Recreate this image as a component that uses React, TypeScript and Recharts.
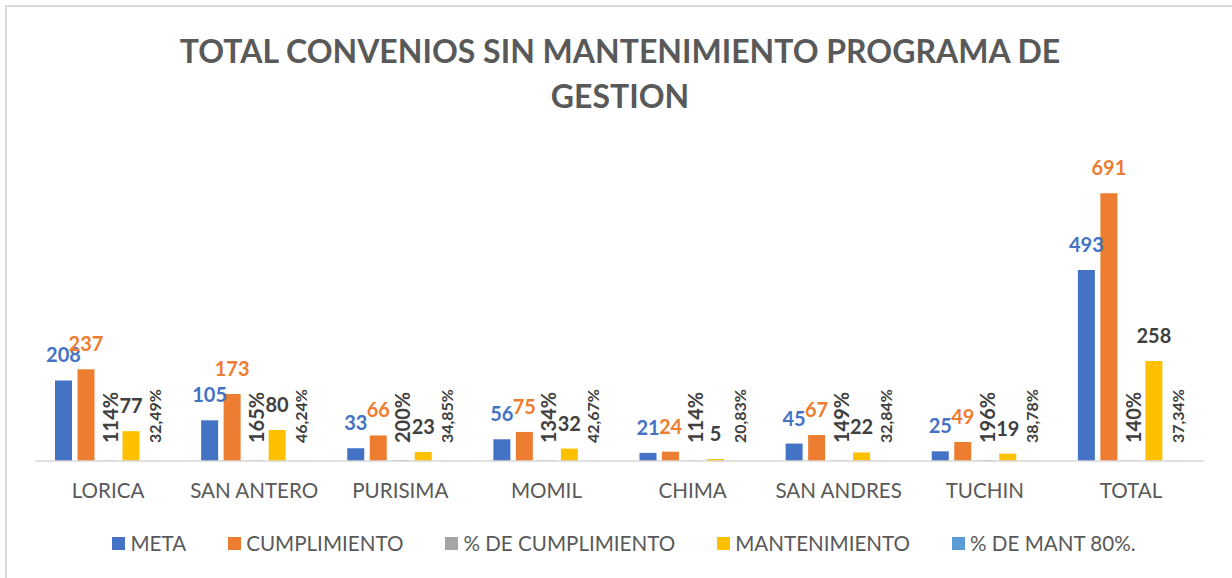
import { Bar, BarChart, LabelList, XAxis, YAxis } from "recharts";

const categories = ["LORICA", "SAN ANTERO", "PURISIMA", "MOMIL", "CHIMA", "SAN ANDRES", "TUCHIN", "TOTAL"];
const meta = [208, 105, 33, 56, 21, 45, 25, 493];
const cumplimiento = [237, 173, 66, 75, 24, 67, 49, 691];
const pctCumplimiento = [1.14, 1.65, 2.0, 1.34, 1.14, 1.49, 1.96, 1.4];
const mantenimiento = [77, 80, 23, 32, 5, 22, 19, 258];
const pctMant = [0.3249, 0.4624, 0.3485, 0.4267, 0.2083, 0.3284, 0.3878, 0.3734];

const data = categories.map((name, i) => ({
  name,
  meta: meta[i],
  cumplimiento: cumplimiento[i],
  pctCumplimiento: pctCumplimiento[i],
  mantenimiento: mantenimiento[i],
  pctMant: pctMant[i],
}));

const legendItems = [
  { label: "META", color: "#4472c4" },
  { label: "CUMPLIMIENTO", color: "#ed7d31" },
  { label: "% DE CUMPLIMIENTO", color: "#a5a5a5" },
  { label: "MANTENIMIENTO", color: "#ffc000" },
  { label: "% DE MANT 80%.", color: "#5b9bd5" },
];

const FONT = "Lato, 'Open Sans', sans-serif";
const BASE_Y = 443;

const fmtPct = (v: number) => Math.round(v * 100) + "%";
const fmtPct2 = (v: number) => (v * 100).toFixed(2).replace(".", ",") + "%";

// labels for the % series sit rotated on the baseline
function rotatedLabel(format: (v: number) => string, size: number, dx: number) {
  return (props: any) => {
    const cx = Number(props.x) + Number(props.width) / 2 + dx;
    return (
      <text
        x={cx}
        y={BASE_Y}
        transform={`rotate(-90, ${cx}, ${BASE_Y})`}
        textAnchor="start"
        dominantBaseline="central"
        fill="#404040"
        fontSize={size}
        fontWeight="bold"
        fontFamily={FONT}
      >
        {format(Number(props.value))}
      </text>
    );
  };
}

const topLabel = (color: string) => ({
  position: "top" as const,
  offset: 18,
  fill: color,
  fontSize: 20,
  fontWeight: "bold",
  fontFamily: FONT,
});

export default function App() {
  return (
    <div
      style={{
        position: "absolute",
        left: 0,
        top: 0,
        width: 1232,
        height: 578,
        background: "#fff",
        fontFamily: FONT,
        overflow: "hidden",
      }}
    >
      <div
        style={{
          position: "absolute",
          left: 5,
          top: 5,
          width: 1240,
          height: 590,
          borderTop: "2px solid #d9d9d9",
          borderLeft: "2px solid #d9d9d9",
        }}
      />
      <div
        style={{
          position: "absolute",
          left: 0,
          top: 28,
          width: 1240,
          textAlign: "center",
          color: "#595959",
          fontWeight: "bold",
          fontSize: 32,
          lineHeight: "45px",
        }}
      >
        TOTAL CONVENIOS SIN MANTENIMIENTO PROGRAMA DE
        <br />
        GESTION
      </div>
      <div style={{ position: "absolute", left: 0, top: 0 }}>
        <BarChart
          width={1232}
          height={578}
          data={data}
          margin={{ top: 151, right: 28, left: 35, bottom: 0 }}
          barGap={5.5}
          barSize={17}
        >
          <XAxis
            dataKey="name"
            height={117}
            tickLine={false}
            axisLine={{ stroke: "#d9d9d9", strokeWidth: 1.5 }}
            tickMargin={16}
            tick={{ fill: "#595959", fontSize: 20.6, fontFamily: FONT }}
            interval={0}
          />
          <YAxis hide domain={[0, 800]} />
          <Bar dataKey="meta" fill="#4472c4" isAnimationActive={false}>
            <LabelList dataKey="meta" {...topLabel("#4472c4")} />
          </Bar>
          <Bar dataKey="cumplimiento" fill="#ed7d31" isAnimationActive={false}>
            <LabelList dataKey="cumplimiento" {...topLabel("#ed7d31")} />
          </Bar>
          <Bar dataKey="pctCumplimiento" fill="#a5a5a5" isAnimationActive={false}>
            <LabelList dataKey="pctCumplimiento" content={rotatedLabel(fmtPct, 20, 1.5)} />
          </Bar>
          <Bar dataKey="mantenimiento" fill="#ffc000" isAnimationActive={false}>
            <LabelList dataKey="mantenimiento" {...topLabel("#404040")} />
          </Bar>
          <Bar dataKey="pctMant" fill="#5b9bd5" isAnimationActive={false}>
            <LabelList dataKey="pctMant" content={rotatedLabel(fmtPct2, 16, 1)} />
          </Bar>
        </BarChart>
      </div>
      <div
        style={{
          position: "absolute",
          left: 0,
          top: 531,
          width: 1248,
          display: "flex",
          justifyContent: "center",
          gap: 42,
          color: "#595959",
          fontSize: 20.6,
        }}
      >
        {legendItems.map((item) => (
          <div key={item.label} style={{ display: "flex", alignItems: "center", gap: 5 }}>
            <span style={{ width: 13, height: 13, background: item.color, display: "inline-block" }} />
            <span>{item.label}</span>
          </div>
        ))}
      </div>
    </div>
  );
}
